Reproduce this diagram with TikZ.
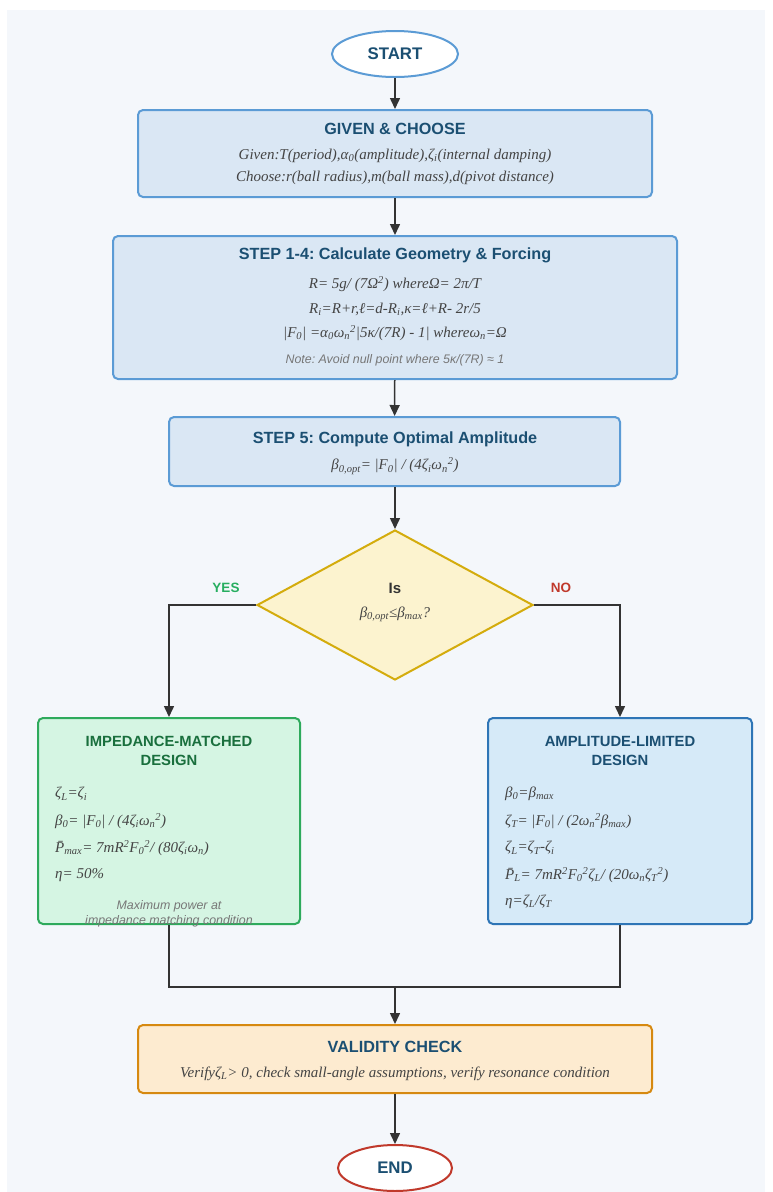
\documentclass[tikz,border=0pt]{standalone}
\usepackage{fontspec}
\setmainfont{Liberation Serif}
\setsansfont{Liberation Sans}
\usetikzlibrary{arrows.meta,shapes.geometric}
\frenchspacing
\definecolor{panel}{HTML}{F4F7FB}
\definecolor{bluestroke}{HTML}{5B9BD5}
\definecolor{bluefill}{HTML}{DAE7F4}
\definecolor{titleblue}{HTML}{1B4F72}
\definecolor{bodygray}{HTML}{444444}
\definecolor{notegray}{HTML}{777777}
\definecolor{linegray}{HTML}{333333}
\definecolor{decfill}{HTML}{FCF3CF}
\definecolor{decstroke}{HTML}{D4AC0D}
\definecolor{greenfill}{HTML}{D5F5E3}
\definecolor{greenstroke}{HTML}{2EAA5C}
\definecolor{greentitle}{HTML}{196F3D}
\definecolor{rightfill}{HTML}{D6EAF8}
\definecolor{rightstroke}{HTML}{2E75B6}
\definecolor{yesgreen}{HTML}{27AE60}
\definecolor{nored}{HTML}{C0392B}
\definecolor{orfill}{HTML}{FDEBD0}
\definecolor{orstroke}{HTML}{D68910}
\newcommand\dn[1]{\textsubscript{#1}}
\newcommand\up[1]{\textsuperscript{#1}}
\begin{document}
\frenchspacing
\begin{tikzpicture}[x=1pt,y=-1pt,
  box/.style={draw, rounded corners=5pt, line width=2pt, inner sep=0pt},
  term/.style={ellipse, draw, fill=white, line width=2pt, inner sep=0pt},
  ttl/.style={font=\sffamily\bfseries\fontsize{16.2}{19}\selectfont, text=titleblue, inner sep=0pt, align=center},
  subttl/.style={font=\sffamily\bfseries\fontsize{14.8}{19}\selectfont, inner sep=0pt, align=center},
  termttl/.style={font=\sffamily\bfseries\fontsize{16.8}{19}\selectfont, text=titleblue, inner sep=0pt},
  body/.style={font=\itshape\fontsize{15}{17}\selectfont, text=bodygray, inner sep=0pt},
  note/.style={font=\sffamily\itshape\fontsize{12.4}{15}\selectfont, text=notegray, inner sep=0pt, align=center},
  lbl/.style={font=\sffamily\bfseries\fontsize{13.5}{15}\selectfont, inner sep=0pt},
  arr/.style={line width=1.5pt, draw=linegray, -{Triangle[length=11pt,width=10pt]}},
  ln/.style={line width=1.5pt, draw=linegray}
]
\useasboundingbox (0,0) rectangle (772,1192);
\fill[white] (0,0) rectangle (772,1192);
\fill[panel] (7,10) rectangle (765,1192);

% START
\node[term, draw=bluestroke, minimum width=126, minimum height=46] (start) at (395,54) {};
\node[termttl] (startt) at (395,54) {START};

% GIVEN
\node[box, draw=bluestroke, fill=bluefill, minimum width=514, minimum height=87] (given) at (395,153.5) {};
\node[ttl] (givent) at (395,129) {GIVEN \& CHOOSE};
\node[body] (given1) at (395,156) {Given:T(period),α\dn{0}(amplitude),ζ\dn{i}(internal damping)};
\node[body] (given2) at (395,178) {Choose:r(ball radius),m(ball mass),d(pivot distance)};

% STEP 1-4
\node[box, draw=bluestroke, fill=bluefill, minimum width=564, minimum height=143] (step14) at (395,307.5) {};
\node[ttl] (step14t) at (395,255) {STEP 1-4: Calculate Geometry \& Forcing};
\node[body] (s1) at (395,284) {R= 5g/ (7Ω\up{2}) whereΩ= 2π/T};
\node[body] (s2) at (395,309) {R\dn{i}=R+r,ℓ=d-R\dn{i},κ=ℓ+R- 2r/5};
\node[body] (s3) at (395,333) {|F\dn{0}| =α\dn{0}ω\dn{n}\up{2}|5κ/(7R) - 1| whereω\dn{n}=Ω};
\node[note] (s4) at (395,360) {Note: Avoid null point where 5κ/(7R) ≈ 1};

% STEP 5
\node[box, draw=bluestroke, fill=bluefill, minimum width=451, minimum height=69] (step5) at (394.5,451.5) {};
\node[ttl] (step5t) at (395,439) {STEP 5: Compute Optimal Amplitude};
\node[body] (step5b) at (395,466) {β\dn{0,opt}= |F\dn{0}| / (4ζ\dn{i}ω\dn{n}\up{2})};

% Decision
\node[diamond, draw=decstroke, fill=decfill, line width=2pt, minimum width=276, minimum height=150, inner sep=0pt] (dec) at (395,605) {};
\node[subttl, text=linegray, font=\sffamily\bfseries\fontsize{15}{17}\selectfont] (dect) at (395,588) {Is};
\node[body] (decb) at (395,614) {β\dn{0,opt}≤β\dn{max}?};
\node[lbl, text=yesgreen] (yes) at (226,588) {YES};
\node[lbl, text=nored] (no) at (561,588) {NO};

% Left box
\node[box, draw=greenstroke, fill=greenfill, minimum width=262, minimum height=206] (left) at (169,821) {};
\node[subttl, text=greentitle] (leftt) at (169,750.5) {IMPEDANCE-MATCHED\\DESIGN};
\node[body, anchor=west] (l1) at (55,794) {ζ\dn{L}=ζ\dn{i}};
\node[body, anchor=west] (l2) at (55,821) {β\dn{0}= |F\dn{0}| / (4ζ\dn{i}ω\dn{n}\up{2})};
\node[body, anchor=west] (l3) at (55,848) {\={P}\dn{max}= 7mR\up{2}F\dn{0}\up{2}/ (80ζ\dn{i}ω\dn{n})};
\node[body, anchor=west] (l4) at (55,875) {η= 50\%};
\node[note] (lnote) at (169,913.5) {Maximum power at\\impedance matching condition};

% Right box
\node[box, draw=rightstroke, fill=rightfill, minimum width=264, minimum height=206] (right) at (620,821) {};
\node[subttl, text=titleblue] (rightt) at (620,750.5) {AMPLITUDE-LIMITED\\DESIGN};
\node[body, anchor=west] (r1) at (505,794) {β\dn{0}=β\dn{max}};
\node[body, anchor=west] (r2) at (505,821) {ζ\dn{T}= |F\dn{0}| / (2ω\dn{n}\up{2}β\dn{max})};
\node[body, anchor=west] (r3) at (505,848) {ζ\dn{L}=ζ\dn{T}-ζ\dn{i}};
\node[body, anchor=west] (r4) at (505,875) {\={P}\dn{L}= 7mR\up{2}F\dn{0}\up{2}ζ\dn{L}/ (20ω\dn{n}ζ\dn{T}\up{2})};
\node[body, anchor=west] (r5) at (505,902) {η=ζ\dn{L}/ζ\dn{T}};

% Validity
\node[box, draw=orstroke, fill=orfill, minimum width=514, minimum height=68] (valid) at (395,1059) {};
\node[ttl] (validt) at (395,1047) {VALIDITY CHECK};
\node[body] (validb) at (395,1074) {Verifyζ\dn{L}> 0, check small-angle assumptions, verify resonance condition};

% END
\node[term, draw=nored, minimum width=114, minimum height=46] (end) at (395,1168) {};
\node[termttl] (endt) at (395,1168) {END};

% connectors
\coordinate (merge) at (395,987);
\draw[arr] (start) -- (given);
\draw[arr] (given) -- (step14);
\draw[arr] (step14) -- (step5);
\draw[arr] (step5.south -| dec.north) -- (dec);
\draw[arr] (dec.west) -| (left.north);
\draw[arr] (dec.east) -| (right.north);
\draw[ln] (left.south) |- (merge);
\draw[ln] (right.south) |- (merge);
\draw[arr] (merge) -- (valid);
\draw[arr] (valid) -- (end);
\end{tikzpicture}
\end{document}
